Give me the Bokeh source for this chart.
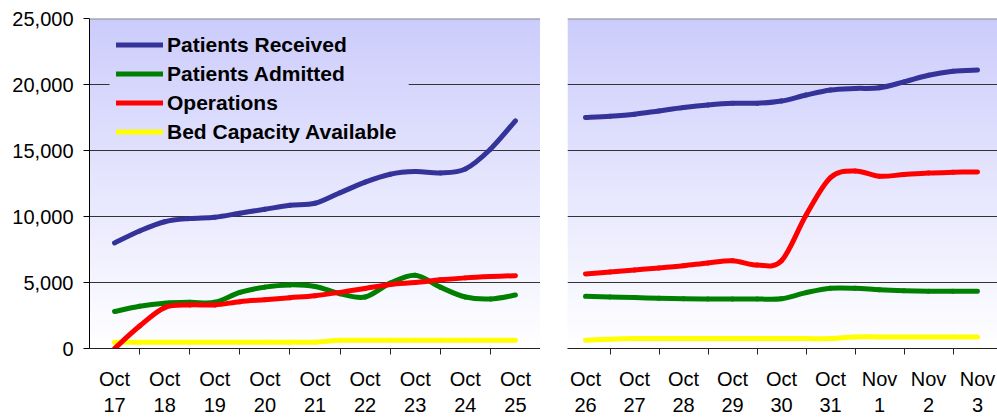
import numpy as np
from bokeh.plotting import figure
from bokeh.layouts import row
from bokeh.models import (FixedTicker, Span, Legend, LegendItem, NumeralTickFormatter, Range1d)
from bokeh.embed import file_html
from bokeh.resources import INLINE

# ---------------- data ----------------
labels_left = ["Oct\n17", "Oct\n18", "Oct\n19", "Oct\n20", "Oct\n21", "Oct\n22", "Oct\n23", "Oct\n24", "Oct\n25"]
labels_right = ["Oct\n26", "Oct\n27", "Oct\n28", "Oct\n29", "Oct\n30", "Oct\n31", "Nov\n1", "Nov\n2", "Nov\n3"]
# half-day sample positions (in days from the first date of each panel)
t_half = [0, 0.5, 1, 1.5, 2, 2.5, 3, 3.5, 4, 4.5, 5, 5.5, 6, 6.5, 7, 7.5, 8]

received_left = [8000, 8900, 9600, 9850, 9950, 10250, 10550, 10850, 11000, 11800, 12600, 13200, 13400, 13300, 13600, 15100, 17250]
admitted_left = [2800, 3200, 3430, 3500, 3500, 4250, 4650, 4820, 4700, 4150, 3900, 4950, 5550, 4650, 3900, 3750, 4050]
operations_left = [0, 1700, 3100, 3300, 3300, 3550, 3700, 3850, 4000, 4250, 4550, 4850, 5000, 5200, 5350, 5450, 5520]
beds_left = [480, 480, 480, 480, 480, 480, 480, 480, 480, 620, 620, 620, 620, 620, 620, 620, 620]

received_right = [17500, 17600, 17750, 18000, 18250, 18450, 18580, 18580, 18750, 19200, 19580, 19700, 19750, 20200, 20700, 21000, 21100]
admitted_right = [3950, 3900, 3860, 3800, 3760, 3750, 3750, 3750, 3770, 4230, 4560, 4560, 4450, 4380, 4340, 4330, 4330]
operations_right = [5650, 5800, 5950, 6100, 6270, 6480, 6650, 6320, 6650, 10100, 12950, 13450, 13050, 13180, 13300, 13350, 13380]
beds_right = [620, 700, 750, 750, 750, 750, 750, 750, 750, 750, 750, 880, 880, 880, 880, 880, 880]

y_ticks = [0, 5000, 10000, 15000, 20000, 25000]

series_names = ["Patients Received", "Patients Admitted", "Operations", "Bed Capacity Available"]
series_colors = ["#333399", "#008000", "#FF0000", "#FFFF00"]

FONT = "Liberation Sans"
H = 418
TOP = 18
FRAME_H = 332
Y_MAX = 25000


def smooth_segments(x, y):
    """Catmull-Rom -> cubic Bezier control points (Excel-like smoothing)."""
    x = np.asarray(x, float)
    y = np.asarray(y, float)
    n = len(x)
    xp = np.concatenate([[x[0]], x, [x[-1]]])
    yp = np.concatenate([[y[0]], y, [y[-1]]])
    cx0 = xp[1:n] + (xp[2:n + 1] - xp[0:n - 1]) / 6
    cy0 = yp[1:n] + (yp[2:n + 1] - yp[0:n - 1]) / 6
    cx1 = xp[2:n + 1] - (xp[3:n + 2] - xp[1:n]) / 6
    cy1 = yp[2:n + 1] - (yp[3:n + 2] - yp[1:n]) / 6
    return dict(x0=x[:-1], y0=y[:-1], x1=x[1:], y1=y[1:], cx0=cx0, cy0=cy0, cx1=cx1, cy1=cy1)


def gradient(y0, y1, rows):
    frac = (np.linspace(y0, y1, rows) / Y_MAX)[:, None]
    img = np.empty((rows, 1), dtype=np.uint32)
    v = img.view(dtype=np.uint8).reshape((rows, 1, 4))
    v[:, :, 0] = np.round(255 - 51 * frac)
    v[:, :, 1] = np.round(255 - 51 * frac)
    v[:, :, 2] = np.round(255 - 3 * frac)
    v[:, :, 3] = 255
    return img


def make_fig(width, border_left, labels, x_start, x_end, show_y):
    p = figure(width=width, height=H, output_backend="svg", toolbar_location=None,
               x_range=Range1d(x_start, x_end), y_range=Range1d(0, Y_MAX),
               min_border_left=border_left, min_border_right=0,
               min_border_top=TOP, min_border_bottom=H - TOP - FRAME_H)
    p.outline_line_color = None
    p.border_fill_color = "white"
    p.background_fill_color = "white"

    p.image_rgba(image=[gradient(0, Y_MAX, FRAME_H)], x=x_start, y=0,
                 dw=x_end - x_start, dh=Y_MAX, level="image")

    n = len(labels)
    p.xaxis.ticker = FixedTicker(ticks=list(range(n)),
                                 minor_ticks=[i + 0.5 for i in range(n)])
    p.xaxis.major_label_overrides = {i: lab for i, lab in enumerate(labels)}
    p.xaxis.major_tick_out = 0
    p.xaxis.major_tick_in = 0
    p.xaxis.minor_tick_out = 6
    p.xaxis.minor_tick_in = 0
    p.xaxis.minor_tick_line_color = "#222222"
    p.xaxis.axis_line_color = "#222222"
    p.xaxis.major_label_text_font = FONT
    p.xaxis.major_label_text_font_size = "20px"
    p.xaxis.major_label_text_color = "black"
    p.xaxis.major_label_text_line_height = 1.2
    p.xaxis.major_label_standoff = 13

    p.yaxis.ticker = FixedTicker(ticks=y_ticks)
    p.yaxis.formatter = NumeralTickFormatter(format="0,0")
    p.yaxis.major_tick_out = 6
    p.yaxis.major_tick_in = 0
    p.yaxis.minor_tick_line_color = None
    p.yaxis.axis_line_color = "black"
    p.yaxis.major_tick_line_color = "black"
    p.yaxis.major_label_text_font = FONT
    p.yaxis.major_label_text_font_size = "20px"
    p.yaxis.major_label_text_color = "black"
    p.yaxis.major_label_standoff = 10
    p.yaxis.visible = show_y

    p.xgrid.visible = False
    p.ygrid.ticker = FixedTicker(ticks=y_ticks)
    p.ygrid.grid_line_color = "#333333"
    p.ygrid.grid_line_width = 1

    p.add_layout(Span(location=Y_MAX, dimension="width", line_color="#8a8a8a", line_width=2))
    return p


# left panel: 9 days, frame 451px wide
left = make_fig(540, 89, labels_left, -0.5, 8.5, True)
# patch of background hiding the 20,000 grid line behind the legend
left.image_rgba(image=[gradient(19000, 21000, 80)], x=-0.1, y=19000, dw=5.97, dh=2000)

# right panel: frame 430px wide, 49px per day
right = make_fig(457, 27, labels_right, -18 / 49, -18 / 49 + 430 / 49, False)

left_series = [received_left, admitted_left, operations_left, beds_left]
right_series = [received_right, admitted_right, operations_right, beds_right]

draw_order = [3, 1, 2, 0]
left_renderers = {}
for k in draw_order:
    left_renderers[k] = left.bezier(line_color=series_colors[k], line_width=5, line_cap="round",
                                    **smooth_segments(t_half, left_series[k]))
    right.bezier(line_color=series_colors[k], line_width=5, line_cap="round",
                 **smooth_segments(t_half, right_series[k]))

legend = Legend(items=[LegendItem(label=series_names[k], renderers=[left_renderers[k]]) for k in range(4)],
                location=(27, 202))
legend.background_fill_alpha = 0
legend.border_line_color = None
legend.label_text_font = FONT
legend.label_text_font_style = "bold"
legend.label_text_font_size = "21px"
legend.label_text_color = "black"
legend.glyph_width = 47
legend.glyph_height = 29
legend.label_height = 29
legend.label_standoff = 4
legend.spacing = 0
legend.padding = 4
legend.margin = 0
left.add_layout(legend, "center")

layout = row(left, right, spacing=0)
open("out.html", "w").write(file_html(layout, INLINE))
